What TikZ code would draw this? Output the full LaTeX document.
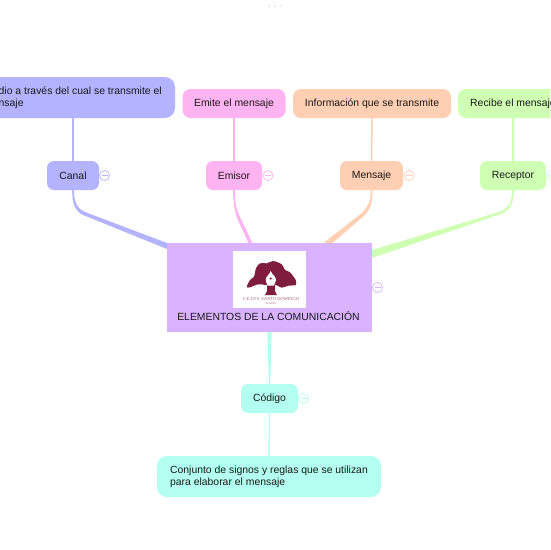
\documentclass[tikz,border=0pt]{standalone}
\usepackage{fontspec}
\setmainfont{Liberation Sans}
\newfontfamily\logofont{Liberation Serif}
\definecolor{CanalFill}{HTML}{B3B3FF}
\definecolor{EmisorFill}{HTML}{FFB3F0}
\definecolor{MensajeFill}{HTML}{FFCFB3}
\definecolor{ReceptorFill}{HTML}{CFFFB3}
\definecolor{CodigoFill}{HTML}{B3FFF0}
\definecolor{CentralFill}{HTML}{D9B3FF}
\definecolor{LogoRed}{HTML}{7F1D3F}
\usetikzlibrary{positioning,calc}

\begin{document}
\begin{tikzpicture}[
    x=1pt,
    y=-1pt,
    rama/.style={
        rounded corners=7pt,
        minimum height=29pt,
        inner sep=0pt,
        outer sep=0pt,
        align=center,
        text=black!90,
        font=\fontsize{10.4}{12}\selectfont
    },
    nota/.style={
        rounded corners=10pt,
        inner sep=0pt,
        outer sep=0pt,
        align=left,
        text=black!90,
        font=\fontsize{10.4}{12}\selectfont
    },
    toggle/.style={
        draw,
        circle,
        fill=white,
        line width=0.7pt,
        minimum size=10pt,
        inner sep=0pt,
        path picture={
            \draw[line width=1pt] ([xshift=-3pt]path picture bounding box.center)
            -- ([xshift=3pt]path picture bounding box.center);
        }
    },
    hilo/.style={line width=1.5pt}
]

\useasboundingbox (0,0) rectangle (550,550);
\clip (0,0) rectangle (550,550);

% ---------------------------------------------------------
% Tema central
% ---------------------------------------------------------

\node[fill=CentralFill,minimum width=205pt,minimum height=89pt,inner sep=0pt,outer sep=0pt]
(central) at (269.5,287.5) {};

\node[fill=white,minimum width=73pt,minimum height=57pt,inner sep=0pt]
(logo) at (269.5,279.5) {};

\node[text=black!90,font=\fontsize{10.4}{12}\selectfont,inner sep=0pt]
(titulo) at (268.5,316.5) {ELEMENTOS DE LA COMUNICACIÓN};

% ---------------------------------------------------------
% Ramas y notas
% ---------------------------------------------------------

\node[rama,fill=CanalFill,minimum width=52pt] (canal) at (73,175.5) {Canal};
\node[rama,fill=EmisorFill,minimum width=56pt] (emisor) at (234,175.5) {Emisor};
\node[rama,fill=MensajeFill,minimum width=63pt] (mensaje) at (371.5,175.5) {Mensaje};
\node[rama,fill=ReceptorFill,minimum width=66pt] (receptor) at (513,175.5) {Receptor};
\node[rama,fill=CodigoFill,minimum width=57pt] (codigo) at (269.5,398.5) {Código};

\node[nota,fill=CanalFill,minimum width=204pt,minimum height=41pt]
(canalnota) at (73,97.5) {Medio a través del cual se transmite el\\mensaje};
\node[rama,fill=EmisorFill,minimum width=103pt,rounded corners=8pt]
(emisornota) at (234,103.5) {Emite el mensaje};
\node[rama,fill=MensajeFill,minimum width=158pt,rounded corners=8pt]
(mensajenota) at (372,103.5) {Información que se transmite};
\node[rama,fill=ReceptorFill,minimum width=110pt,rounded corners=8pt]
(receptornota) at (513,103.5) {Recibe el mensaje};
\node[nota,fill=CodigoFill,minimum width=224pt,minimum height=41pt]
(codigonota) at (269,476.5) {Conjunto de signos y reglas que se utilizan\\para elaborar el mensaje};

% ---------------------------------------------------------
% Conectores
% ---------------------------------------------------------

\draw[hilo,CanalFill] (canal) -- (canalnota);
\draw[hilo,EmisorFill] (emisor) -- (emisornota);
\draw[hilo,MensajeFill] (mensaje) -- (mensajenota);
\draw[hilo,ReceptorFill] (receptor) -- (receptornota);
\draw[hilo,CodigoFill] (codigo) -- (codigonota);

\fill[CanalFill]
([xshift=-.8pt]canal.south) .. controls (72,203) and (75,211) .. (83,215)
-- ($(central.north west)+(0,6)$) -- ($(central.north west)+(0,0)$) -- (85,212)
.. controls (78,209) and (74,203) .. ([xshift=.8pt]canal.south) -- cycle;

\fill[EmisorFill]
([xshift=-.8pt]emisor.south) .. controls (233,202) and (235,212) .. (237,218)
-- ($(central.north)+(-21,0)$) -- ($(central.north)+(-17,0)$) -- (240,217)
.. controls (236,208) and (235,202) .. ([xshift=.8pt]emisor.south) -- cycle;

\fill[MensajeFill]
([xshift=-.8pt]mensaje.south) .. controls (371,200) and (369,205) .. (362,213)
-- ($(central.north)+(54,0)$) -- ($(central.north)+(63,0)$) -- (365,215)
.. controls (371,208) and (373,201) .. ([xshift=.8pt]mensaje.south) -- cycle;

\fill[ReceptorFill]
([xshift=-.8pt]receptor.south) .. controls (512,202) and (509,208) .. (499,212)
-- ($(central.north east)+(0,7)$) -- ($(central.north east)+(0,15)$) -- (501,214)
.. controls (511,210) and (514,202) .. ([xshift=.8pt]receptor.south) -- cycle;

\fill[CodigoFill]
($(central.south)+(-2.2,0)$) -- ([xshift=-.7pt]codigo.north)
-- ([xshift=.7pt]codigo.north) -- ($(central.south)+(2.2,0)$) -- cycle;

% ---------------------------------------------------------
% Botones
% ---------------------------------------------------------

\node[toggle,draw=CanalFill,text=CanalFill] (canalboton) at (104.5,175.5) {};
\node[toggle,draw=EmisorFill,text=EmisorFill] (emisorboton) at (268,175.5) {};
\node[toggle,draw=MensajeFill,text=MensajeFill] (mensajeboton) at (409,175.5) {};
\node[toggle,draw=ReceptorFill,text=ReceptorFill] (receptorboton) at (552,175.5) {};
\node[toggle,draw=CentralFill,text=CentralFill] (centralboton) at (377.5,287.5) {};
\node[toggle,draw=CodigoFill,text=CodigoFill] (codigoboton) at (303.5,398.5) {};

\foreach \px/\name in {269/a,275/b,281/c}{
    \node[circle,fill=black!6,minimum size=3.5pt,inner sep=0pt] (punto\name) at (\px,6) {};
}

% ---------------------------------------------------------
% Logotipo
% ---------------------------------------------------------

\fill[LogoRed] plot[smooth cycle,tension=0.45] coordinates {
    (246.7,287) (250,280) (254,276.7) (256,268.3) (260,263.3) (266.7,263.3)
    (273.3,261) (281.7,264.3) (285,270) (290,272.3) (295.7,280) (295.7,285)
    (288.3,285.7) (281.7,287.7) (276,285) (266.7,285) (258.3,284.3) (250,287.3)};
\fill[LogoRed] (267,285) -- (275,285) -- (275,291) -- (277,295) -- (265,295) -- (267,291) -- cycle;
\fill[white] (270.7,271) .. controls (272,275) and (276,276) .. (276,280)
.. controls (276,283) and (274,284) .. (274,285.5) -- (267.5,285.5)
.. controls (267.5,284) and (265.7,283) .. (265.7,280)
.. controls (265.7,276) and (269.5,275) .. (270.7,271) -- cycle;
\fill[LogoRed] (270.7,278.5) circle (1.2);

\node[text=LogoRed!70,font=\logofont\fontsize{4.5}{5}\selectfont,inner sep=0pt]
(logotexto) at (271,299.5) {C.E.I.P.S. SANTO DOMINGO};
\node[text=LogoRed!70,font=\logofont\fontsize{2.8}{3}\selectfont,inner sep=0pt]
(logolugar) at (271,303.5) {ALGETE};

\end{tikzpicture}
\end{document}
